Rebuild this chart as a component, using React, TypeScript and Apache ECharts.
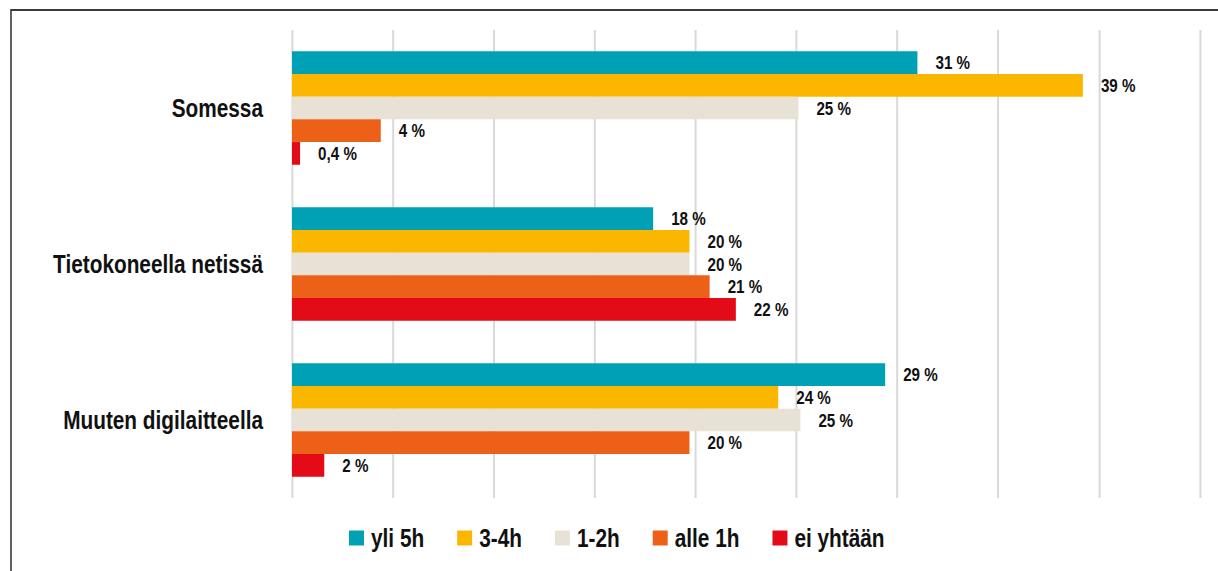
import React, { useEffect, useRef } from "react";
import * as echarts from "echarts";

const categories = ["Somessa", "Tietokoneella netissä", "Muuten digilaitteella"];
const seriesNames = ["yli 5h", "3-4h", "1-2h", "alle 1h", "ei yhtään"];
const seriesColors = ["#00a0b5", "#fbb600", "#e8e2d6", "#ec6017", "#e30b17"];
const yli5h = [31, 17.9, 29.4];
const h3to4 = [39.2, 19.7, 24.1];
const h1to2 = [25.1, 19.7, 25.2];
const alle1h = [4.4, 20.7, 19.7];
const eiYhtaan = [0.4, 22, 1.6];
const seriesValues = [yli5h, h3to4, h1to2, alle1h, eiYhtaan];
const axisMax = 45;
const axisStep = 5;

// The reference uses a condensed typeface; the chart is drawn in a wider
// space and squeezed horizontally by K to reproduce it.
const PAGE_W = 1218;
const PAGE_H = 571;
const K = 0.8;
const CHART_W = PAGE_W / K;
const px = (v: number) => v / K; // page x-distance -> chart space

const FONT = "'Liberation Sans', Arial, sans-serif";

function fmt(v: number): string {
  if (v < 1) return v.toFixed(1).replace(".", ",") + " %";
  return Math.round(v) + " %";
}

export default function App() {
  const ref = useRef<HTMLDivElement>(null);
  useEffect(() => {
    if (!ref.current) return;
    const chart = echarts.init(ref.current, null, { renderer: "svg" });
    chart.setOption({
      animation: false,
      backgroundColor: "#ffffff",
      graphic: [
        {
          type: "rect",
          silent: true,
          shape: { x: px(11), y: 10, width: 1800, height: 700 },
          style: { fill: "none", stroke: "#3a3a3a", lineWidth: 2 },
        },
      ],
      grid: {
        left: px(292),
        right: CHART_W - px(1199.5),
        top: 30,
        bottom: 73,
        containLabel: false,
        outerBoundsMode: "none",
      },
      xAxis: {
        type: "value",
        min: 0,
        max: axisMax,
        interval: axisStep,
        axisLabel: { show: false },
        axisLine: { show: false },
        axisTick: { show: false },
        splitLine: { show: true, lineStyle: { color: "#d9d9d9", width: px(2) } },
      },
      yAxis: {
        type: "category",
        data: categories,
        inverse: true,
        axisLine: { show: false },
        axisTick: { show: false },
        axisLabel: {
          margin: px(29),
          color: "#111111",
          fontFamily: FONT,
          fontWeight: "bold",
          fontSize: 26,
        },
      },
      legend: {
        data: seriesNames,
        left: px(349),
        top: 523,
        padding: 0,
        icon: "rect",
        itemWidth: px(15),
        itemHeight: 15,
        itemGap: px(33),
        textStyle: {
          color: "#111111",
          fontFamily: FONT,
          fontWeight: "bold",
          fontSize: 26,
          lineHeight: 30,
          padding: [0, 0, 0, px(3)],
        },
      },
      series: seriesNames.map((name, i) => ({
        name,
        type: "bar",
        data: seriesValues[i],
        barWidth: 22.7,
        barGap: "0%",
        itemStyle: { color: seriesColors[i] },
        label: {
          show: true,
          position: "right",
          distance: px(18),
          formatter: (p: any) => fmt(p.value),
          color: "#111111",
          fontFamily: FONT,
          fontWeight: "bold",
          fontSize: 19,
        },
      })),
    });
    return () => chart.dispose();
  }, []);
  return (
    <div
      style={{
        position: "fixed",
        left: 0,
        top: 0,
        width: PAGE_W,
        height: PAGE_H,
        overflow: "hidden",
        background: "#ffffff",
      }}
    >
      <div
        ref={ref}
        style={{
          width: CHART_W,
          height: PAGE_H,
          transform: `scaleX(${K})`,
          transformOrigin: "0 0",
        }}
      />
    </div>
  );
}
